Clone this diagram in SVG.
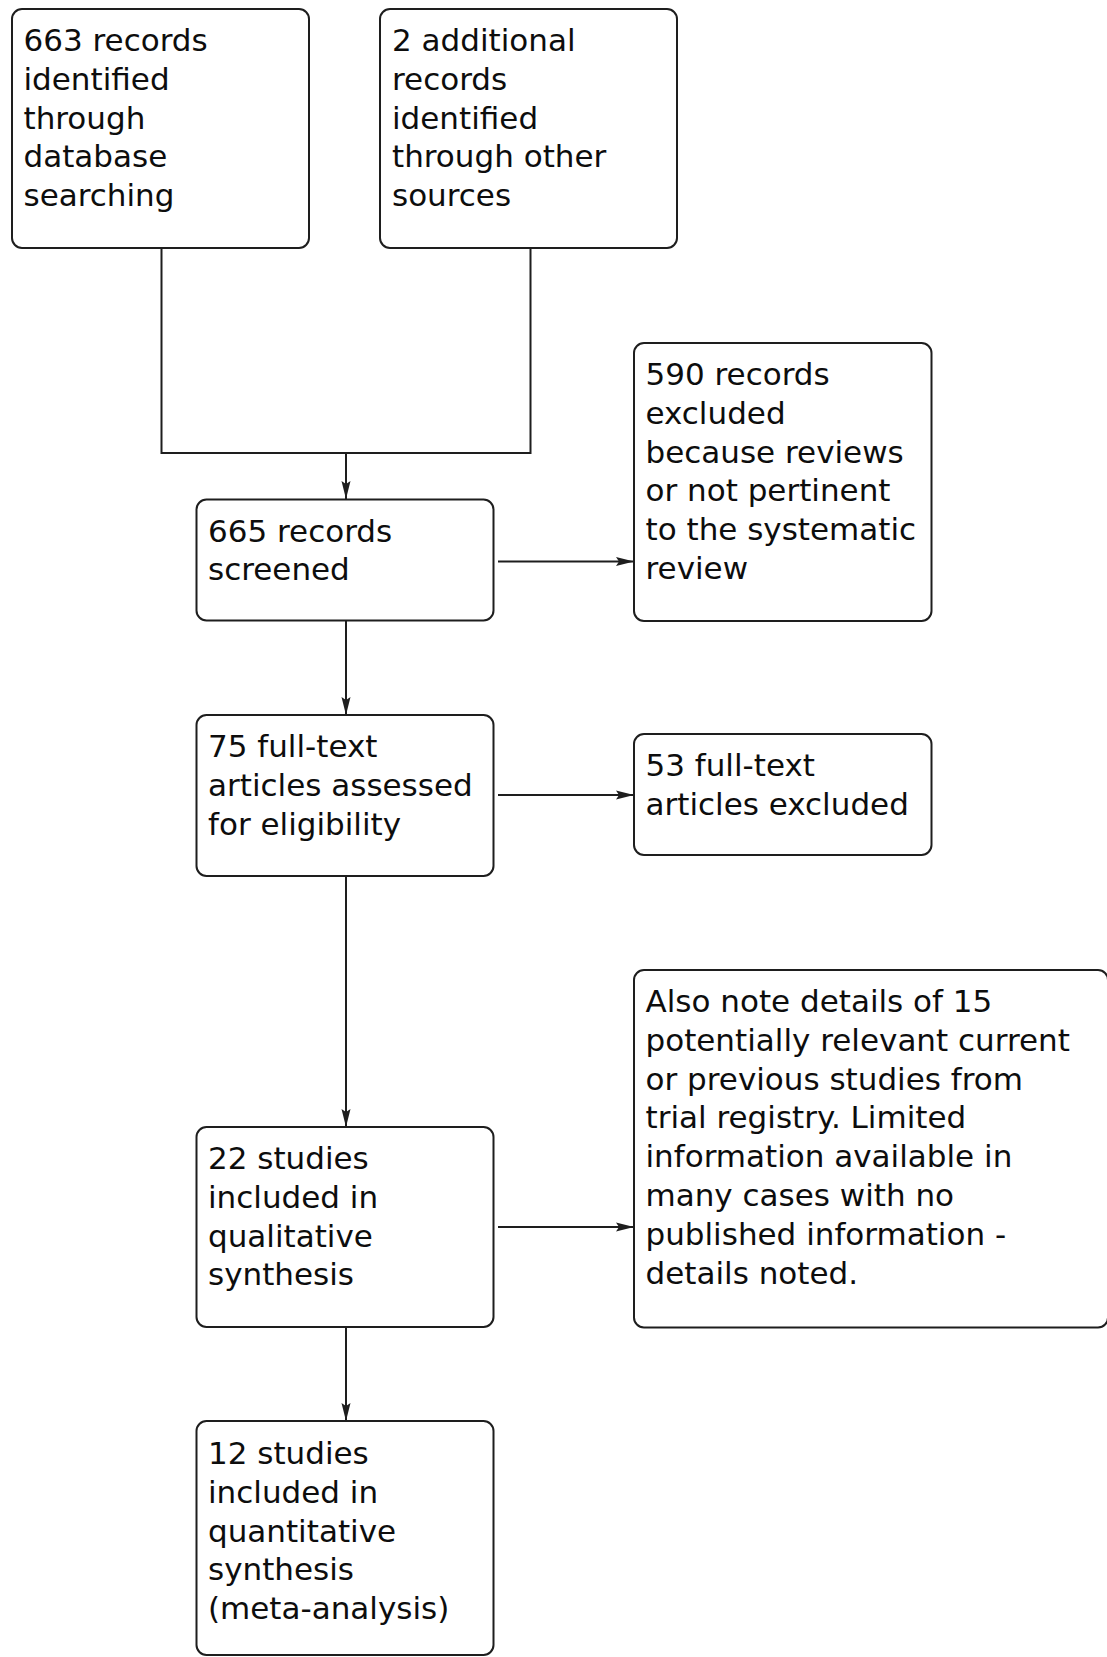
<svg xmlns="http://www.w3.org/2000/svg" width="1107" height="1657" viewBox="0 0 1107 1657">
<style>
.box{fill:#fff;stroke:#1e1e1e;stroke-width:2}
.t{font-family:"DejaVu Sans","Liberation Sans",sans-serif;font-size:31px;fill:#0d0d0d}
.c{fill:none;stroke:#1e1e1e;stroke-width:2}
</style>
<defs>
<marker id="ah" viewBox="0 0 18 10" refX="18" refY="5" markerWidth="18" markerHeight="10" markerUnits="userSpaceOnUse" orient="auto">
<path d="M0,0.5 L18,5 L0,9.5 L3,5 Z" fill="#1e1e1e"/>
</marker>
</defs>
<rect width="1107" height="1657" fill="#fff"/>
<g id="connectors">
<polyline class="c" points="161.5,248 161.5,453 530.5,453 530.5,248"/>
<line class="c" x1="346" y1="453" x2="346" y2="499" marker-end="url(#ah)"/>
<line class="c" x1="498" y1="561.5" x2="634" y2="561.5" marker-end="url(#ah)"/>
<line class="c" x1="346" y1="620.5" x2="346" y2="715" marker-end="url(#ah)"/>
<line class="c" x1="498" y1="795" x2="634" y2="795" marker-end="url(#ah)"/>
<line class="c" x1="346" y1="876" x2="346" y2="1127" marker-end="url(#ah)"/>
<line class="c" x1="498" y1="1227" x2="634" y2="1227" marker-end="url(#ah)"/>
<line class="c" x1="346" y1="1327" x2="346" y2="1421" marker-end="url(#ah)"/>
</g>
<g id="n663">
<rect class="box" x="12" y="9" width="297" height="239" rx="10"/>
<text class="t"><tspan x="23.5" y="51">663 records</tspan><tspan x="23.5" dy="38.8">identified</tspan><tspan x="23.5" dy="38.8">through</tspan><tspan x="23.5" dy="38.8">database</tspan><tspan x="23.5" dy="38.8">searching</tspan></text>
</g>
<g id="n2">
<rect class="box" x="380" y="9" width="297" height="239" rx="10"/>
<text class="t"><tspan x="392" y="51">2 additional</tspan><tspan x="392" dy="38.8">records</tspan><tspan x="392" dy="38.8">identified</tspan><tspan x="392" dy="38.8">through other</tspan><tspan x="392" dy="38.8">sources</tspan></text>
</g>
<g id="n665">
<rect class="box" x="196.5" y="499.5" width="297" height="121" rx="10"/>
<text class="t"><tspan x="208" y="541.5">665 records</tspan><tspan x="208" dy="38.8">screened</tspan></text>
</g>
<g id="n590">
<rect class="box" x="634" y="343" width="297.5" height="278" rx="10"/>
<text class="t"><tspan x="645.5" y="385">590 records</tspan><tspan x="645.5" dy="38.8">excluded</tspan><tspan x="645.5" dy="38.8">because reviews</tspan><tspan x="645.5" dy="38.8">or not pertinent</tspan><tspan x="645.5" dy="38.8">to the systematic</tspan><tspan x="645.5" dy="38.8">review</tspan></text>
</g>
<g id="n75">
<rect class="box" x="196.5" y="715" width="297" height="161" rx="10"/>
<text class="t"><tspan x="208" y="757">75 full-text</tspan><tspan x="208" dy="38.8">articles assessed</tspan><tspan x="208" dy="38.8">for eligibility</tspan></text>
</g>
<g id="n53">
<rect class="box" x="634" y="734" width="297.5" height="121" rx="10"/>
<text class="t"><tspan x="645.5" y="776">53 full-text</tspan><tspan x="645.5" dy="38.8">articles excluded</tspan></text>
</g>
<g id="n22">
<rect class="box" x="196.5" y="1127" width="297" height="200" rx="10"/>
<text class="t"><tspan x="208" y="1169">22 studies</tspan><tspan x="208" dy="38.8">included in</tspan><tspan x="208" dy="38.8">qualitative</tspan><tspan x="208" dy="38.8">synthesis</tspan></text>
</g>
<g id="nalso">
<rect class="box" x="634" y="970" width="474" height="357.5" rx="10"/>
<text class="t"><tspan x="645.5" y="1012">Also note details of 15</tspan><tspan x="645.5" dy="38.8">potentially relevant current</tspan><tspan x="645.5" dy="38.8">or previous studies from</tspan><tspan x="645.5" dy="38.8">trial registry. Limited</tspan><tspan x="645.5" dy="38.8">information available in</tspan><tspan x="645.5" dy="38.8">many cases with no</tspan><tspan x="645.5" dy="38.8">published information -</tspan><tspan x="645.5" dy="38.8">details noted.</tspan></text>
</g>
<g id="n12">
<rect class="box" x="196.5" y="1421" width="297" height="234" rx="10"/>
<text class="t"><tspan x="208" y="1464">12 studies</tspan><tspan x="208" dy="38.8">included in</tspan><tspan x="208" dy="38.8">quantitative</tspan><tspan x="208" dy="38.8">synthesis</tspan><tspan x="208" dy="38.8">(meta-analysis)</tspan></text>
</g>
</svg>
